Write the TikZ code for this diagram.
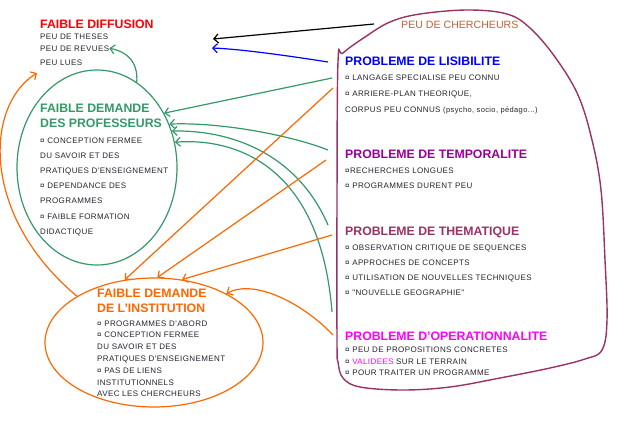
\documentclass[tikz,border=0pt]{standalone}
\usepackage{fontspec}
\setmainfont{Liberation Sans}
\newfontfamily\listfont[LetterSpace=5]{Liberation Sans}
\usetikzlibrary{shapes, arrows.meta, positioning}
\definecolor{diffred}{HTML}{FF0000}
\definecolor{profgreen}{HTML}{339966}
\definecolor{instorange}{HTML}{FF6600}
\definecolor{lisblue}{HTML}{0000FF}
\definecolor{temppurple}{HTML}{990099}
\definecolor{thempurple}{HTML}{993366}
\definecolor{opermagenta}{HTML}{FF00FF}
\definecolor{cherchbrown}{HTML}{C0603A}
\definecolor{listgray}{HTML}{23232F}

\begin{document}
\begin{tikzpicture}[
                x=1pt, y=-1pt,
                head/.style={anchor=base west, inner sep=0pt, font=\fontsize{12.3}{14}\selectfont\bfseries},
                item/.style={anchor=base west, inner sep=0pt, text=listgray, font=\listfont\fontsize{8}{10}\selectfont},
                arrow/.style={-{Straight Barb[length=4.5pt, width=9pt]}, line width=1.2pt},
                oval/.style={ellipse, draw, line width=1.2pt, inner sep=0pt}
            ]
                \useasboundingbox (0,0) rectangle (630,426);

                % ovals
                \node[oval, draw=profgreen, minimum width=160pt, minimum height=195pt] (profell) at (97,167.5) {};
                \node[oval, draw=instorange, minimum width=218pt, minimum height=129pt] (instell) at (154,342.5) {};
                \draw[thempurple, line width=1.4pt] plot[smooth cycle, tension=0.6] coordinates {
                    (337,340) (337,200) (338,62) (343,53) (365,37) (390,22) (420,14) (468,10)
                    (507,14) (530,28) (555,57) (578,95) (592,140) (601,190) (605,260) (607,320)
                    (602,350) (585,359) (550,368) (500,378) (450,387) (403,390) (360,387) (343,378) (338,362)};

                % left column
                \node[head, text=diffred] (diffhd) at (40,28) {FAIBLE DIFFUSION};
                \node[item] (diff1) at (40,39) {PEU DE THESES};
                \node[item] (diff2) at (40,51) {PEU DE REVUES};
                \node[item] (diff3) at (40,65) {PEU LUES};

                \node[head, text=profgreen] (profhd1) at (40,112) {FAIBLE DEMANDE};
                \node[head, text=profgreen] (profhd2) at (40,127) {DES PROFESSEURS};
                \foreach \t [count=\i] in {¤ CONCEPTION FERMEE, DU SAVOIR ET DES, PRATIQUES D'ENSEIGNEMENT,
                        ¤ DEPENDANCE DES, PROGRAMMES, ¤ FAIBLE FORMATION, DIDACTIQUE}
                    \node[item] (prof\i) at (40,{143+15.2*(\i-1)}) {\t};

                \node[head, text=instorange] (insthd1) at (97,297) {FAIBLE DEMANDE};
                \node[head, text=instorange] (insthd2) at (97,312) {DE L'INSTITUTION};
                \foreach \t [count=\i] in {¤ PROGRAMMES D'ABORD, ¤ CONCEPTION FERMEE, DU SAVOIR ET DES,
                        PRATIQUES D'ENSEIGNEMENT, ¤ PAS DE LIENS, INSTITUTIONNELS, AVEC LES CHERCHEURS}
                    \node[item] (inst\i) at (97,{326+11.8*(\i-1)}) {\t};

                % right column
                \node[anchor=base west, inner sep=0pt, text=cherchbrown, font=\fontsize{10.6}{12}\selectfont] (cherch) at (401,28) {PEU DE CHERCHEURS};

                \node[head, text=lisblue] (lis) at (345,65) {PROBLEME DE LISIBILITE};
                \node[item] (lis1) at (345,80) {¤ LANGAGE SPECIALISE PEU CONNU};
                \node[item] (lis2) at (345,96) {¤ ARRIERE-PLAN THEORIQUE,};
                \node[item] (lis3) at (345,112) {CORPUS PEU CONNUS {\fontsize{7.5}{9}\selectfont (psycho, socio, pédago...)}};

                \node[head, text=temppurple] (temp) at (345,158) {PROBLEME DE TEMPORALITE};
                \node[item] (temp1) at (345,173) {¤RECHERCHES LONGUES};
                \node[item] (temp2) at (345,188) {¤ PROGRAMMES DURENT PEU};

                \node[head, text=thempurple] (them) at (345,235) {PROBLEME DE THEMATIQUE};
                \foreach \t [count=\i] in {¤ OBSERVATION CRITIQUE DE SEQUENCES, ¤ APPROCHES DE CONCEPTS,
                        ¤ UTILISATION DE NOUVELLES TECHNIQUES, ¤ "NOUVELLE GEOGRAPHIE"}
                    \node[item] (them\i) at (345,{250+15.3*(\i-1)}) {\t};

                \node[head, text=opermagenta] (oper) at (345,340) {PROBLEME D'OPERATIONNALITE};
                \node[item] (oper1) at (345,352) {¤ PEU DE PROPOSITIONS CONCRETES};
                \node[item] (oper2) at (345,364) {¤ \textcolor{opermagenta}{VALIDEES} SUR LE TERRAIN};
                \node[item] (oper3) at (345,375) {¤ POUR TRAITER UN PROGRAMME};

                % connector ends
                \coordinate (cherch-out) at (374,24);
                \coordinate (diff-tip1) at (213,39);
                \coordinate (lis-out) at (328,62);
                \coordinate (diff-tip2) at (212,48);
                \coordinate (diff-tip3) at (37,73);
                \coordinate (g1) at (332,78);
                \coordinate (o1) at (333,88);
                \coordinate (g2) at (328,150);
                \coordinate (o2) at (326,160);
                \coordinate (g3) at (328,225);
                \coordinate (o3) at (332,235);
                \coordinate (g4) at (332,312);
                \coordinate (o4) at (333,335);

                \draw[arrow] (cherch-out) -- (diff-tip1);
                \draw[arrow, lisblue] (lis-out) .. controls (290,56) and (240,49) .. (diff-tip2);

                \draw[arrow, profgreen] (g1) -- (profell.39);
                \draw[arrow, profgreen] (g2) .. controls (290,135) and (220,122) .. (profell.31);
                \draw[arrow, profgreen] (g3) .. controls (300,160) and (240,130) .. (profell.26);
                \draw[arrow, profgreen] (g4) .. controls (320,160) and (230,138) .. (profell.18);
                \draw[arrow, profgreen] (profell.65) .. controls (138,62) and (128,52) .. (diff2.east);

                \draw[arrow, instorange] (o1) -- (instell.115);
                \draw[arrow, instorange] (o2) -- (instell.87);
                \draw[arrow, instorange] (o3) -- (instell.66);
                \draw[arrow, instorange] (o4) .. controls (305,305) and (255,278) .. (instell.34);
                \draw[arrow, instorange] (instell.149) .. controls (-20,215) and (-15,105) .. (diff-tip3);
            \end{tikzpicture}
\end{document}
